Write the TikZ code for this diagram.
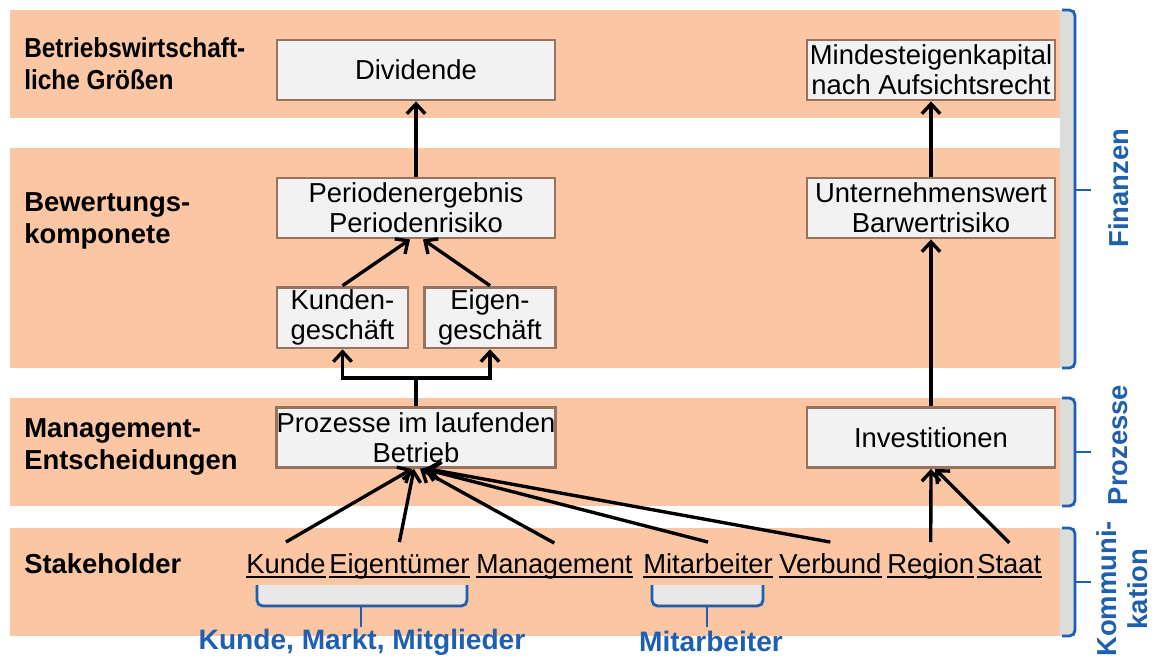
\documentclass[tikz,border=0pt]{standalone}
\usepackage{fontspec}
\setmainfont{Liberation Sans}
\usetikzlibrary{positioning,arrows.meta}

\definecolor{band}{RGB}{250,198,164}
\definecolor{boxfill}{RGB}{242,242,242}
\definecolor{boxline}{RGB}{150,115,95}
\definecolor{bracecol}{RGB}{30,95,175}
\definecolor{stripcol}{RGB}{220,220,220}
\definecolor{bracefill}{RGB}{232,232,232}

\tikzset{
  box/.style={rectangle,fill=boxfill,draw=boxline,line width=2pt,
    align=center,inner sep=0pt,font=\fontsize{19.5}{21.5}\selectfont},
  widebox/.style={box,minimum width=6.95cm,minimum height=1.5cm},
  rightbox/.style={box,minimum width=6.2cm,minimum height=1.5cm},
  smallbox/.style={box,minimum width=3.27cm,minimum height=1.52cm},
  rowlabel/.style={anchor=west,align=left,inner sep=0pt,
    font=\bfseries\fontsize{19.5}{22.5}\selectfont},
  holder/.style={anchor=base west,inner sep=0pt,font=\fontsize{19.5}{21.5}\selectfont},
  grouplabel/.style={anchor=base,inner sep=0pt,text=bracecol,
    font=\bfseries\fontsize{20}{22}\selectfont},
  sidelabel/.style={rotate=90,align=center,inner sep=0pt,text=bracecol,
    font=\bfseries\fontsize{19.5}{22}\selectfont},
  conn/.style={->,line width=2.4pt},
  bracket/.style={draw=bracecol,line width=2pt,rounded corners=4pt}
}

\begin{document}
\begin{tikzpicture}[x=0.025cm,y=-0.025cm,>={Straight Barb[length=7pt,width=13pt]}]
  \useasboundingbox (0,0) rectangle (1156,659);

  % bands
  \fill[band] (10,10) rectangle (1060,118);
  \fill[band] (10,148) rectangle (1060,368);
  \fill[band] (10,398) rectangle (1060,506);
  \fill[band] (10,528) rectangle (1060,636);

  % right braces
  \fill[stripcol] (1060,10) rectangle (1075,368);
  \fill[stripcol] (1060,398) rectangle (1075,506);
  \fill[stripcol] (1060,528) rectangle (1075,636);
  \draw[bracket] (1062,10) -- (1075,10) -- (1075,368) -- (1062,368);
  \draw[bracket] (1075,190) -- (1091,190);
  \draw[bracket] (1062,398) -- (1075,398) -- (1075,506) -- (1062,506);
  \draw[bracket] (1075,452) -- (1091,452);
  \draw[bracket] (1062,528) -- (1075,528) -- (1075,636) -- (1062,636);
  \draw[bracket] (1075,582) -- (1091,582);

  \node[sidelabel] (finanzen) at (1119,188) {Finanzen};
  \node[sidelabel] (prozlabel) at (1118,445) {Prozesse};
  \node[sidelabel] (kommlabel) at (1122,589) {Kommuni-\\kation};

  % row labels
  \node[rowlabel] (bwgroessen) at (24,64)
    {\scalebox{0.89}[1]{Betriebswirtschaft-}\\\scalebox{0.89}[1]{liche Größen}};
  \node[rowlabel] (bewertung) at (24,221) {Bewertungs-\\komponete};
  \node[rowlabel] (mgmtentsch) at (24,447) {Management-\\Entscheidungen};
  \node[rowlabel,anchor=base west] (stakeholder) at (24,573) {Stakeholder};

  % boxes
  \node[widebox] (dividende) at (416,70) {Dividende};
  \node[widebox] (periode) at (416,208) {Periodenergebnis\\Periodenrisiko};
  \node[smallbox] (kundengesch) at (342.5,317.5) {Kunden-\\geschäft};
  \node[smallbox] (eigengesch) at (490,317.5) {Eigen-\\geschäft};
  \node[widebox] (prozesse) at (416,437.5) {Prozesse im laufenden\\Betrieb};
  \node[rightbox] (mindestek) at (931,70) {Mindesteigenkapital\\nach Aufsichtsrecht};
  \node[rightbox] (unwert) at (931,208) {Unternehmenswert\\Barwertrisiko};
  \node[rightbox] (invest) at (931,437.5) {Investitionen};

  % stakeholders
  \node[holder] (kunde) at (246,573) {Kunde};
  \node[holder] (eigentuemer) at (329,573) {Eigentümer};
  \node[holder] (management) at (476,573) {\scalebox{0.975}[1]{Management}};
  \node[holder] (mitarbeiter) at (643,573) {Mitarbeiter};
  \node[holder] (verbund) at (779,573) {Verbund};
  \node[holder] (region) at (887,573) {Region};
  \node[holder] (staat) at (977,573) {Staat};
  \foreach \w in {kunde,eigentuemer,management,mitarbeiter,verbund,region,staat}
    \draw[line width=1.5pt] ([yshift=-0.1cm]\w.base west) -- ([yshift=-0.1cm]\w.base east);

  % groups below the stakeholders
  \fill[bracefill] (257,585) rectangle (467,604);
  \draw[bracket] (257,585) -- (257,606) -- (467,606) -- (467,585);
  \draw[bracket] (361,606) -- (361,627);
  \fill[bracefill] (652,585) rectangle (763,604);
  \draw[bracket] (652,585) -- (652,606) -- (763,606) -- (763,585);
  \draw[bracket] (707,606) -- (707,627);
  \node[grouplabel] (kmm) at (362,649) {Kunde, Markt, Mitglieder};
  \node[grouplabel] (mitgroup) at (711,651) {Mitarbeiter};

  % connectors
  \draw[conn] (periode) -- (dividende);
  \draw[conn] (unwert) -- (mindestek);
  \draw[conn] (invest) -- (unwert);
  \draw[conn] (kundengesch.north) -- ([xshift=-0.15cm]periode.south);
  \draw[conn] (eigengesch.north) -- ([xshift=0.175cm]periode.south);
  \coordinate (split) at (416,378);
  \draw[conn] (prozesse.north) -- (split) -| (kundengesch.south);
  \draw[conn] (split) -| (eigengesch.south);
  \draw[conn] ([yshift=0.27cm]kunde.north) -- ([xshift=-0.1cm]prozesse.south);
  \draw[conn] ([yshift=0.27cm]eigentuemer.north) -- ([xshift=-0.05cm]prozesse.south);
  \draw[conn] ([yshift=0.27cm]management.north) -- ([xshift=0.1cm]prozesse.south);
  \draw[conn] ([yshift=0.27cm]mitarbeiter.north) -- ([xshift=0.2cm]prozesse.south);
  \draw[conn] ([yshift=0.27cm]verbund.north) -- ([xshift=0.3cm]prozesse.south);
  \draw[conn] ([yshift=0.27cm]region.north) -- (invest.south);
  \draw[conn] ([yshift=0.27cm]staat.north) -- ([xshift=0.1cm]invest.south);
\end{tikzpicture}
\end{document}
